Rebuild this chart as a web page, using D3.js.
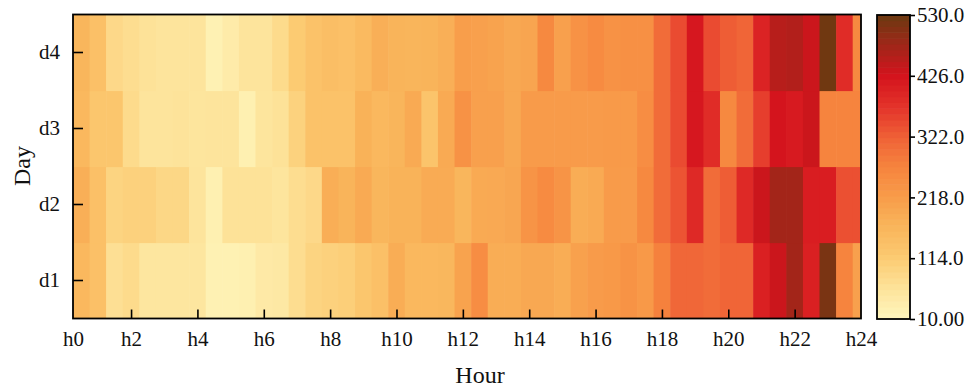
<!DOCTYPE html>
<html>
<head>
<meta charset="utf-8">
<script src="https://cdn.jsdelivr.net/npm/d3@7"></script>
<style>
  html, body { margin: 0; padding: 0; background: #fff; }
  svg { display: block; }
  text { font-family: "Liberation Serif", "Times New Roman", serif; fill: #111; }
</style>
</head>
<body>
<svg id="chart" width="977" height="388"></svg>
<script>
// ---- data ----
const days = ["d1", "d2", "d3", "d4"];
const hourTickValues = [0.25, 2, 4, 6, 8, 10, 12, 14, 16, 18, 20, 22, 24];
const hourTickLabels = ["h0", "h2", "h4", "h6", "h8", "h10", "h12", "h14", "h16", "h18", "h20", "h22", "h24"];
// 48 half-hour values per day (cells centred at 0.5h ... 24h)
const d1Values = [160,140,70,80,55,55,55,55,25,25,28,45,48,75,95,100,
                  105,125,140,185,160,160,163,205,250,185,185,195,195,185,208,220,
                  225,238,225,275,312,312,305,315,315,405,435,475,405,515,270,210];
const d2Values = [180,140,95,100,100,88,88,60,28,65,65,65,58,75,85,182,
                  170,190,165,172,172,188,188,165,190,192,198,235,255,235,185,190,
                  220,220,260,305,335,390,305,325,390,435,475,475,410,410,340,340];
const d3Values = [160,125,125,80,60,60,62,58,60,60,28,58,65,98,135,135,
                  135,175,160,168,190,130,190,240,210,210,195,220,220,220,220,220,
                  222,222,250,305,345,420,385,260,305,360,425,415,435,270,270,270];
const d4Values = [165,140,85,75,65,60,60,60,25,40,60,60,80,115,135,145,
                  140,155,180,170,168,170,180,215,210,205,195,200,260,210,240,255,
                  240,245,245,305,345,420,345,325,315,400,455,460,435,525,385,260];
const seriesByDay = [d1Values, d2Values, d3Values, d4Values];
const colorbarTicks = [10, 114, 218, 322, 426, 530];
const colorStopValues = [10, 60, 114, 170, 218, 270, 322, 370, 426, 470, 530];
const colorStopColors = ["#fff6bd","#fde49c","#fccb72","#f9b45a","#f89c4a","#f6843e",
                         "#ef6036","#e4352b","#d4131d","#a8231a","#6b3a10"];

// ---- layout ----
const svg = d3.select("#chart");
const plot = { left: 73, right: 861, top: 14.5, bottom: 318.5 };
const cb = { left: 877, right: 910, top: 15, bottom: 319 };
const serif = "'Liberation Serif', 'Times New Roman', serif";

const x = d3.scaleLinear().domain([0.25, 24]).range([plot.left, plot.right]);
const y = d3.scaleBand().domain(days.slice().reverse()).range([plot.top, plot.bottom]).padding(0);
const color = d3.scaleLinear().domain(colorStopValues).range(colorStopColors).interpolate(d3.interpolateRgb).clamp(true);

const cells = [];
seriesByDay.forEach((vals, di) => {
  vals.forEach((v, i) => {
    const c = 0.5 * (i + 1);
    cells.push({ day: days[di], x0: c - 0.25, x1: Math.min(c + 0.25, 24), v });
  });
});

svg.append("defs").append("clipPath").attr("id", "plotclip")
  .append("rect").attr("x", plot.left).attr("y", plot.top)
  .attr("width", plot.right - plot.left).attr("height", plot.bottom - plot.top);

svg.append("g").attr("clip-path", "url(#plotclip)")
  .selectAll("rect").data(cells).join("rect")
  .attr("x", d => x(d.x0))
  .attr("y", d => y(d.day))
  .attr("width", d => x(d.x1) - x(d.x0) + 0.6)
  .attr("height", y.bandwidth() + 0.6)
  .attr("fill", d => color(d.v));

// x axis
const xAxis = d3.axisBottom(x).tickValues(hourTickValues)
  .tickFormat((d, i) => hourTickLabels[i]).tickSizeInner(-9).tickSizeOuter(0).tickPadding(13);
const gx = svg.append("g").attr("transform", `translate(0,${plot.bottom})`).call(xAxis);
gx.select(".domain").remove();
gx.selectAll(".tick line").attr("stroke", "#000").attr("stroke-width", 1.6)
  .filter(d => d === 0.25 || d === 24).remove();
gx.selectAll(".tick text").attr("font-size", 21).attr("fill", "#111")
  .style("font-family", serif);

// y axis
const yAxis = d3.axisLeft(y).tickSizeInner(-10).tickSizeOuter(0).tickPadding(13);
const gy = svg.append("g").attr("transform", `translate(${plot.left},0)`).call(yAxis);
gy.select(".domain").remove();
gy.selectAll(".tick line").attr("stroke", "#000").attr("stroke-width", 1.6);
gy.selectAll(".tick text").attr("font-size", 21).attr("fill", "#111")
  .style("font-family", serif);

// frame
svg.append("rect").attr("x", plot.left).attr("y", plot.top)
  .attr("width", plot.right - plot.left).attr("height", plot.bottom - plot.top)
  .attr("fill", "none").attr("stroke", "#000").attr("stroke-width", 1.8);

// axis titles
svg.append("text").attr("x", 480).attr("y", 383)
  .attr("text-anchor", "middle").attr("font-size", 24).text("Hour");
svg.append("text").attr("transform", `translate(30,166) rotate(-90)`)
  .attr("text-anchor", "middle").attr("font-size", 24).text("Day");

// colorbar
const cbScale = d3.scaleLinear().domain([10, 530]).range([cb.bottom, cb.top]);
const nBands = 52;
const bandVals = d3.range(nBands).map(i => 10 + (520 / nBands) * i);
svg.append("g").selectAll("rect").data(bandVals).join("rect")
  .attr("x", cb.left).attr("width", cb.right - cb.left)
  .attr("y", d => cbScale(d + 520 / nBands) - 0.3)
  .attr("height", d => cbScale(d) - cbScale(d + 520 / nBands) + 0.6)
  .attr("fill", d => color(d + 260 / nBands));
svg.append("rect").attr("x", cb.left).attr("y", cb.top)
  .attr("width", cb.right - cb.left).attr("height", cb.bottom - cb.top)
  .attr("fill", "none").attr("stroke", "#000").attr("stroke-width", 1.8);
const cbAxis = d3.axisRight(cbScale).tickValues(colorbarTicks)
  .tickFormat(d => d === 10 ? "10.00" : d.toFixed(1)).tickSizeInner(5).tickSizeOuter(0).tickPadding(2);
const gc = svg.append("g").attr("transform", `translate(${cb.right},0)`).call(cbAxis);
gc.select(".domain").remove();
gc.selectAll(".tick line").attr("stroke", "#000").attr("stroke-width", 1.6);
gc.selectAll(".tick text").attr("font-size", 21).attr("fill", "#111")
  .style("font-family", serif);
</script>
</body>
</html>
